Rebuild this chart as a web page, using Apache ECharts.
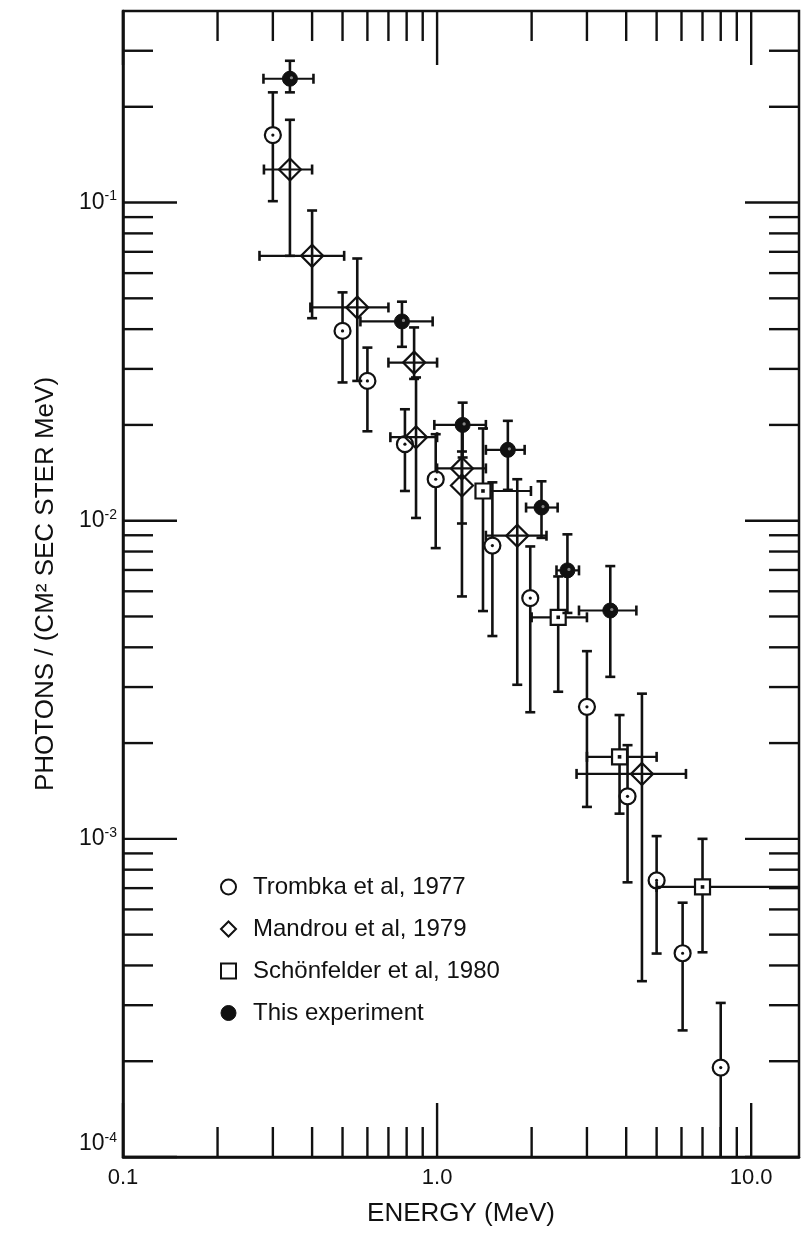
<!DOCTYPE html>
<html>
<head>
<meta charset="utf-8">
<script src="https://cdn.jsdelivr.net/npm/echarts@6/dist/echarts.min.js"></script>
<style>
html,body{margin:0;padding:0;background:#fff;}
#chart{width:802px;height:1241px;}
</style>
</head>
<body>
<div id="chart"></div>
<script>
// ---------- axis ranges & ticks ----------
const X_MIN = 0.1, X_MAX = 14.2;
const Y_MIN = 1e-4, Y_MAX = 0.4;
const xMajorTicks = [0.1, 1, 10];
const xMinorTicks = [0.2, 0.3, 0.4, 0.5, 0.6, 0.7, 0.8, 0.9, 2, 3, 4, 5, 6, 7, 8, 9];
const xLabelValues = [0.1, 1, 10];
const xLabelTexts = ['0.1', '1.0', '10.0'];
const yMajorTicks = [1e-4, 1e-3, 1e-2, 1e-1];
const yMinorTicks = [2e-4, 3e-4, 4e-4, 5e-4, 6e-4, 7e-4, 8e-4, 9e-4,
                     2e-3, 3e-3, 4e-3, 5e-3, 6e-3, 7e-3, 8e-3, 9e-3,
                     2e-2, 3e-2, 4e-2, 5e-2, 6e-2, 7e-2, 8e-2, 9e-2,
                     0.2, 0.3];
const yLabelValues = [1e-4, 1e-3, 1e-2, 1e-1];
const yLabelBase = '10';
const yLabelExps = ['-4', '-3', '-2', '-1'];

// ---------- data ----------
// Trombka et al, 1977 (no energy bars)
const trombkaE  = [0.30, 0.50, 0.60, 0.79, 0.99, 1.50, 1.98, 3.0, 4.04, 5.0, 6.05, 8.0];
const trombkaF  = [0.163, 0.0395, 0.0275, 0.0174, 0.0135, 0.00835, 0.00571, 0.0026, 0.00136, 0.00074, 0.000437, 0.000191];
const trombkaLo = [0.101, 0.0272, 0.0191, 0.0124, 0.0082, 0.00434, 0.0025, 0.00126, 0.00073, 0.000436, 0.00025, 0.0001];
const trombkaHi = [0.222, 0.0522, 0.035, 0.0224, 0.0187, 0.0132, 0.0083, 0.00389, 0.00197, 0.00102, 0.00063, 0.000305];

// Mandrou et al, 1979
const mandrouE   = [0.34, 0.40, 0.557, 0.845, 0.857, 1.2, 1.2, 1.80, 4.49];
const mandrouF   = [0.127, 0.068, 0.0468, 0.0314, 0.0183, 0.0146, 0.0129, 0.00897, 0.0016];
const mandrouLo  = [0.068, 0.0433, 0.0275, 0.0279, 0.0102, 0.0098, 0.00578, 0.00305, 0.000357];
const mandrouHi  = [0.182, 0.0944, 0.0667, 0.0405, 0.0282, 0.0195, 0.0165, 0.0135, 0.00286];
const mandrouELo = [0.281, 0.272, 0.395, 0.70, 0.71, 1.0, 1.2, 1.43, 2.78];
const mandrouEHi = [0.40, 0.506, 0.70, 1.0, 1.0, 1.43, 1.2, 2.23, 6.2];

// Schönfelder et al, 1980
const schoenE   = [1.40, 2.43, 3.81, 7.0];
const schoenF   = [0.0124, 0.00497, 0.00181, 0.000706];
const schoenLo  = [0.0052, 0.0029, 0.0012, 0.00044];
const schoenHi  = [0.0195, 0.00668, 0.00245, 0.0010];
const schoenELo = [1.40, 2.0, 3.0, 5.0];
const schoenEHi = [1.99, 3.0, 5.0, 20];

// This experiment
const thisE   = [0.34, 0.773, 1.206, 1.68, 2.15, 2.6, 3.56];
const thisF   = [0.245, 0.0423, 0.020, 0.0167, 0.011, 0.00698, 0.00522];
const thisLo  = [0.222, 0.0352, 0.0158, 0.0125, 0.00883, 0.00513, 0.00323];
const thisHi  = [0.279, 0.0488, 0.0235, 0.0206, 0.0133, 0.00906, 0.0072];
const thisELo = [0.28, 0.57, 0.98, 1.43, 1.92, 2.4, 2.83];
const thisEHi = [0.404, 0.968, 1.43, 1.90, 2.42, 2.83, 4.31];

const seriesNames = ['Trombka et al, 1977', 'Mandrou et al, 1979', 'Schönfelder et al, 1980', 'This experiment'];

// ---------- styling ----------
const INK = '#111';
const FONT = "'Liberation Sans', Arial, sans-serif";

function rows(E, F, Lo, Hi, ELo, EHi) {
  return E.map((e, i) => ELo ? [e, F[i], Lo[i], Hi[i], ELo[i], EHi[i]] : [e, F[i], Lo[i], Hi[i]]);
}
function isIn(list, v) { return list.some(m => Math.abs(m / v - 1) < 1e-6); }

function errRenderer(shape) {
  return function (params, api) {
    const cs = params.coordSys;
    const left = cs.x, right = cs.x + cs.width, top = cs.y, bottom = cs.y + cs.height;
    const e = api.value(0), f = api.value(1);
    const lo = api.value(2), hi = api.value(3);
    const elo = api.value(4), ehi = api.value(5);
    const c = api.coord([e, f]);
    const kids = [];
    const ln = (x1, y1, x2, y2, w) => kids.push({
      type: 'line', shape: { x1, y1, x2, y2 },
      style: { stroke: INK, lineWidth: w, lineCap: 'butt' }
    });
    const yHi = Math.max(api.coord([e, hi])[1], top);
    const yLo = Math.min(api.coord([e, lo])[1], bottom);
    ln(c[0], yHi, c[0], yLo, 2.6);
    ln(c[0] - 5, yHi, c[0] + 5, yHi, 2.6);
    if (yLo < bottom - 1) ln(c[0] - 5, yLo, c[0] + 5, yLo, 2.6);
    if (isFinite(elo) && isFinite(ehi) && ehi > elo) {
      const xl = api.coord([elo, f])[0];
      let xr = api.coord([ehi, f])[0];
      const clipped = xr > right;
      xr = Math.min(xr, right);
      ln(xl, c[1], xr, c[1], 2.2);
      if (elo < e * 0.999) ln(xl, c[1] - 5, xl, c[1] + 5, 2.6);
      if (!clipped) ln(xr, c[1] - 5, xr, c[1] + 5, 2.6);
    }
    const x = c[0], y = c[1];
    if (shape === 'circle') {
      kids.push({ type: 'circle', shape: { cx: x, cy: y, r: 8 }, style: { fill: '#fff', stroke: INK, lineWidth: 2.2 } });
      kids.push({ type: 'circle', shape: { cx: x, cy: y, r: 1.6 }, style: { fill: INK } });
    } else if (shape === 'diamond') {
      kids.push({ type: 'polygon', shape: { points: [[x, y - 11], [x + 11, y], [x, y + 11], [x - 11, y]] },
        style: { fill: 'rgba(255,255,255,0)', stroke: INK, lineWidth: 2.2 } });
    } else if (shape === 'square') {
      kids.push({ type: 'rect', shape: { x: x - 7.5, y: y - 7.5, width: 15, height: 15 }, style: { fill: '#fff', stroke: INK, lineWidth: 2.2 } });
      kids.push({ type: 'rect', shape: { x: x - 1.8, y: y - 1.8, width: 3.6, height: 3.6 }, style: { fill: INK } });
    } else {
      kids.push({ type: 'circle', shape: { cx: x, cy: y, r: 7.5 }, style: { fill: INK, stroke: INK, lineWidth: 1 } });
      kids.push({ type: 'circle', shape: { cx: x + 1.5, cy: y - 1, r: 1.6 }, style: { fill: '#888' } });
    }
    return { type: 'group', children: kids };
  };
}

function tickRenderer(dir) {
  return function (params, api) {
    const cs = params.coordSys;
    const left = cs.x, right = cs.x + cs.width, top = cs.y, bottom = cs.y + cs.height;
    const st = { stroke: INK, lineWidth: 2.4 };
    if (dir === 'x') {
      const v = api.value(0);
      const len = isIn(xMajorTicks, v) ? 54 : 30;
      const x = api.coord([v, Y_MIN])[0];
      return { type: 'group', children: [
        { type: 'line', shape: { x1: x, y1: bottom, x2: x, y2: bottom - len }, style: st },
        { type: 'line', shape: { x1: x, y1: top, x2: x, y2: top + len }, style: st }
      ] };
    } else {
      const v = api.value(1);
      const len = isIn(yMajorTicks, v) ? 54 : 30;
      const y = api.coord([X_MIN, v])[1];
      return { type: 'group', children: [
        { type: 'line', shape: { x1: left, y1: y, x2: left + len, y2: y }, style: st },
        { type: 'line', shape: { x1: right, y1: y, x2: right - len, y2: y }, style: st }
      ] };
    }
  };
}

const dims = ['E', 'F', 'lo', 'hi', 'elo', 'ehi'];
function errSeries(name, data, shape) {
  return {
    type: 'custom', name, data, dimensions: dims,
    encode: { x: 'E', y: 'F' },
    renderItem: errRenderer(shape), z: 5, silent: true,
    itemStyle: { color: INK }
  };
}

const chart = echarts.init(document.getElementById('chart'), null, { renderer: 'canvas' });
chart.setOption({
  backgroundColor: '#fff',
  animation: false,
  grid: { left: 123, right: 3, top: 11, bottom: 84, show: true, borderColor: INK, borderWidth: 2.5 },
  xAxis: {
    type: 'log', logBase: 10, min: X_MIN, max: X_MAX, interval: 1,
    name: 'ENERGY (MeV)', nameLocation: 'middle', nameGap: 44,
    nameTextStyle: { fontSize: 26, fontFamily: FONT, color: INK },
    axisLine: { show: true, lineStyle: { color: INK, width: 2.5 } },
    axisTick: { show: false }, splitLine: { show: false }, minorTick: { show: false },
    axisLabel: {
      fontSize: 22, fontFamily: FONT, color: INK, margin: 10,
      formatter: v => { const i = xLabelValues.findIndex(m => Math.abs(m / v - 1) < 1e-6); return i < 0 ? '' : xLabelTexts[i]; }
    }
  },
  yAxis: {
    type: 'log', logBase: 10, min: Y_MIN, max: Y_MAX, interval: 1,
    name: 'PHOTONS / (CM² SEC STER MeV)', nameLocation: 'middle', nameGap: 64,
    nameTextStyle: { fontSize: 26, fontFamily: FONT, color: INK },
    axisLine: { show: true, lineStyle: { color: INK, width: 2.5 } },
    axisTick: { show: false }, splitLine: { show: false }, minorTick: { show: false },
    axisLabel: {
      margin: 6,
      verticalAlignMinLabel: 'bottom',
      formatter: v => { const i = yLabelValues.findIndex(m => Math.abs(m / v - 1) < 1e-6); return i < 0 ? '' : '{n|' + yLabelBase + '}{e|' + yLabelExps[i] + '}'; },
      rich: {
        n: { fontSize: 23, fontFamily: FONT, color: INK, lineHeight: 26 },
        e: { fontSize: 14, fontFamily: FONT, color: INK, verticalAlign: 'top', lineHeight: 14 }
      }
    }
  },
  legend: {
    orient: 'vertical', left: 215, top: 870,
    itemWidth: 15, itemHeight: 15, itemGap: 18,
    formatter: name => '{t|' + name + '}',
    textStyle: { color: INK, fontFamily: FONT, fontSize: 24,
      rich: { t: { fontSize: 24, fontFamily: FONT, color: INK, padding: [0, 0, 0, 12] } } },
    data: [
      { name: seriesNames[0], icon: 'circle', itemStyle: { color: '#fff', borderColor: INK, borderWidth: 2 } },
      { name: seriesNames[1], icon: 'diamond', itemStyle: { color: '#fff', borderColor: INK, borderWidth: 2 } },
      { name: seriesNames[2], icon: 'rect', itemStyle: { color: '#fff', borderColor: INK, borderWidth: 2 } },
      { name: seriesNames[3], icon: 'circle', itemStyle: { color: INK, borderColor: INK, borderWidth: 1 } }
    ],
    selectedMode: false
  },
  series: [
    { type: 'custom', name: 'xticks', silent: true, z: 3,
      data: xMajorTicks.concat(xMinorTicks).map(v => [v, Y_MIN]),
      renderItem: tickRenderer('x') },
    { type: 'custom', name: 'yticks', silent: true, z: 3,
      data: yMajorTicks.concat(yMinorTicks).map(v => [X_MIN, v]),
      renderItem: tickRenderer('y') },
    errSeries(seriesNames[0], rows(trombkaE, trombkaF, trombkaLo, trombkaHi), 'circle'),
    errSeries(seriesNames[1], rows(mandrouE, mandrouF, mandrouLo, mandrouHi, mandrouELo, mandrouEHi), 'diamond'),
    errSeries(seriesNames[2], rows(schoenE, schoenF, schoenLo, schoenHi, schoenELo, schoenEHi), 'square'),
    errSeries(seriesNames[3], rows(thisE, thisF, thisLo, thisHi, thisELo, thisEHi), 'filled')
  ]
});
</script>
</body>
</html>
